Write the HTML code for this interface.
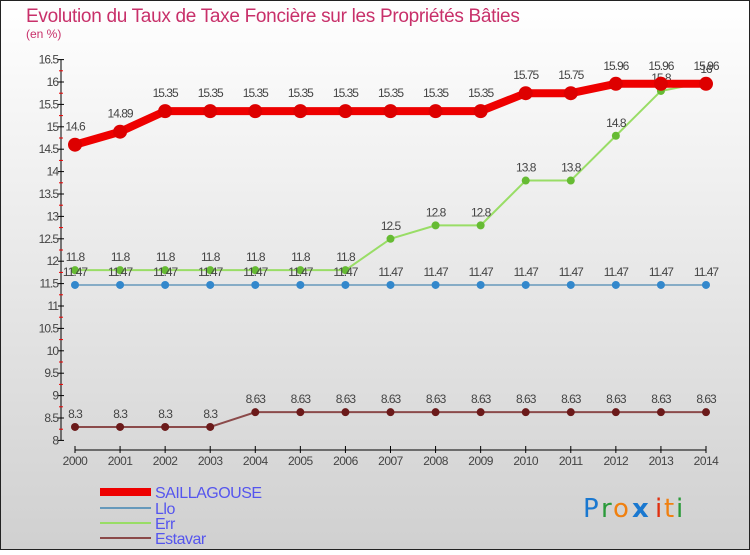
<!DOCTYPE html>
<html><head><meta charset="utf-8"><style>
html,body{margin:0;padding:0}
body{width:750px;height:550px;overflow:hidden;font-family:"Liberation Sans",sans-serif}
</style></head><body>
<svg id="chart" width="750" height="550" xmlns="http://www.w3.org/2000/svg" font-family="Liberation Sans, sans-serif">
<defs><linearGradient id="bg" x1="0" y1="0" x2="0" y2="1"><stop offset="0" stop-color="#ffffff"/><stop offset="1" stop-color="#d0d0d0"/></linearGradient></defs>
<rect x="0.5" y="0.5" width="749" height="549" fill="url(#bg)" stroke="#222"/>
<text x="26" y="22" font-size="19" fill="#c8306a" letter-spacing="-0.3">Evolution du Taux de Taxe Foncière sur les Propriétés Bâties</text>
<text x="26" y="38" font-size="12" fill="#c8306a">(en %)</text>
<g id="axes"></g><g id="series"></g><g id="legend"></g>
<g font-size="26" font-family="DejaVu Sans, sans-serif">
<text x="583" y="517" fill="#1a78d0">P</text><text x="601" y="517" fill="#2a9a3a">r</text><text x="613" y="517" fill="#f08010">o</text><text x="632" y="517" fill="#1a78d0" font-weight="bold">x</text><text x="655" y="517" fill="#e03010">i</text><text x="664" y="517" fill="#f08010">t</text><text x="676" y="517" fill="#2a9a3a">i</text>
</g>
</svg>
<script>
const years=[2000,2001,2002,2003,2004,2005,2006,2007,2008,2009,2010,2011,2012,2013,2014];
const saillagouse=[14.6,14.89,15.35,15.35,15.35,15.35,15.35,15.35,15.35,15.35,15.75,15.75,15.96,15.96,15.96];
const llo=[11.47,11.47,11.47,11.47,11.47,11.47,11.47,11.47,11.47,11.47,11.47,11.47,11.47,11.47,11.47];
const err=[11.8,11.8,11.8,11.8,11.8,11.8,11.8,12.5,12.8,12.8,13.8,13.8,14.8,15.8,16];
const estavar=[8.3,8.3,8.3,8.3,8.63,8.63,8.63,8.63,8.63,8.63,8.63,8.63,8.63,8.63,8.63];
const yTicks=[8,8.5,9,9.5,10,10.5,11,11.5,12,12.5,13,13.5,14,14.5,15,15.5,16,16.5];
const seriesNames=["SAILLAGOUSE","Llo","Err","Estavar"];
const NS="http://www.w3.org/2000/svg";
const x=i=>75+i*(706-75)/(years.length-1);
const y=v=>440.4-(v-8)*44.8;
function mk(tag,attrs,parent,txt){const e=document.createElementNS(NS,tag);for(const k in attrs)e.setAttribute(k,attrs[k]);if(txt!==undefined)e.textContent=txt;parent.appendChild(e);return e;}
const axes=document.getElementById('axes');
let yl=mk('line',{x1:61,y1:y(16.5),x2:61,y2:y(8),stroke:'#000'},axes);


yTicks.forEach((t,i)=>{
  mk('line',{x1:58,y1:y(t),x2:64,y2:y(t),stroke:'#000'},axes);
  let tl=mk('text',{x:58,y:y(t)+4,'font-size':12,'text-anchor':'end',fill:'#444','letter-spacing':'-1'},axes,String(t));
  
  
  if(i<yTicks.length-1) mk('line',{x1:59,y1:y(t+0.25),x2:63,y2:y(t+0.25),stroke:'#e00'},axes);
});
let xl=mk('line',{x1:75,y1:450,x2:706,y2:450,stroke:'#000'},axes);


years.forEach((yr,i)=>{
  mk('line',{x1:x(i),y1:446,x2:x(i),y2:453,stroke:'#000'},axes);
  let tl=mk('text',{x:x(i),y:465,'font-size':12,'text-anchor':'middle',fill:'#444','letter-spacing':'-0.5'},axes,String(yr));
  
  
});
const sg=document.getElementById('series');
const defs=[[estavar,'#8b4a4a','#6b1a1a',2,4,'estavar'],[err,'#99dd66','#66bb33',2,4,'err'],[llo,'#6699bb','#3388cc',1.5,4,'llo'],[saillagouse,'#ee0000','#dd0000',8,7,'saillagouse']];
defs.forEach(([d,lc,pc,w,r,nm])=>{
  const g=mk('g',{},sg);
  
  
  const pl=mk('polyline',{points:d.map((v,i)=>x(i)+','+y(v)).join(' '),fill:'none',stroke:lc,'stroke-width':w,'stroke-linejoin':'round'},g);
  
  
  d.forEach((v,i)=>{
    const c=mk('circle',{cx:x(i),cy:y(v),r:r,fill:pc},g);
    
    
    const t=mk('text',{x:x(i),y:y(v)-(nm==='saillagouse'?14:9),'font-size':12,'text-anchor':'middle',fill:'#444','letter-spacing':'-1'},g,String(v));
    
    
  });
});
const lg=document.getElementById('legend');
const lcol=['#ee0000','#6699bb','#99dd66','#8b4a4a'],lw=[8,2,2,2],ly=[492,508,523,538];
seriesNames.forEach((n,i)=>{
  const g=mk('g',{},lg);
  
  
  mk('line',{x1:100,y1:ly[i],x2:151,y2:ly[i],stroke:lcol[i],'stroke-width':lw[i]},g);
  mk('text',{x:155,y:ly[i]+6,'font-size':16,fill:'#5555ee','letter-spacing':'-0.5'},g,n);
});
</script>
</body></html>
